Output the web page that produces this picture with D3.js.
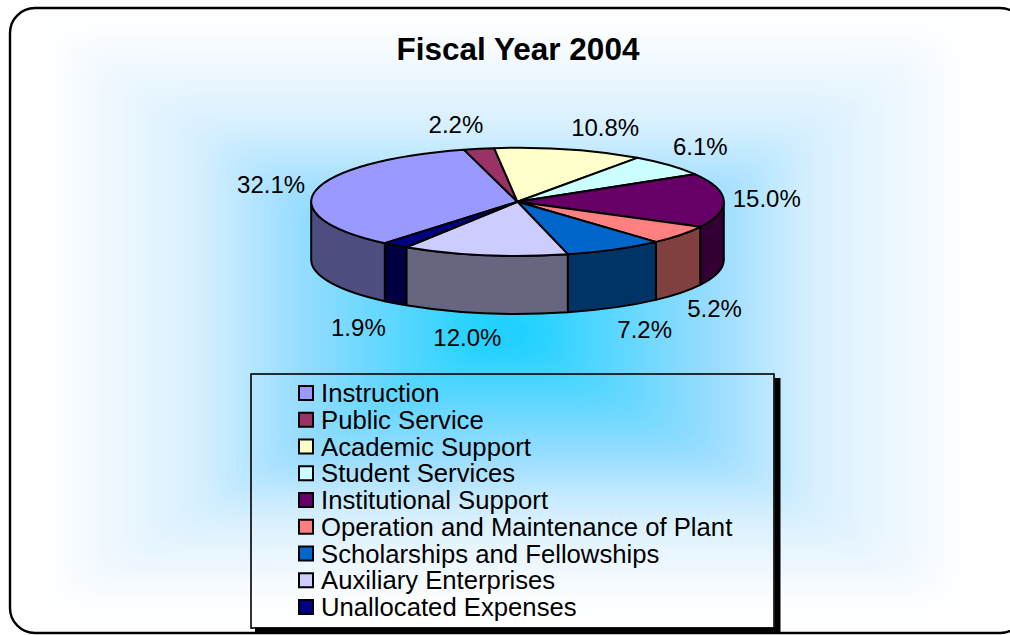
<!DOCTYPE html>
<meta charset="utf-8">
<style>
html, body { margin: 0; padding: 0; background: #fff; overflow: hidden; }
svg { display: block; font-family: "Liberation Sans", Arial, sans-serif; }
</style>
<body>
<script src="https://d3js.org/d3.v7.min.js"></script>
<script>
// data (labels show these, the slices get normalised by d3.pie)
var categories = ["Instruction", "Public Service", "Academic Support", "Student Services",
  "Institutional Support", "Operation and Maintenance of Plant", "Scholarships and Fellowships",
  "Auxiliary Enterprises", "Unallocated Expenses"];
var values = [32.1, 2.2, 10.8, 6.1, 15.0, 5.2, 7.2, 12.0, 1.9];
var topColors = ["#9999ff", "#993366", "#ffffcc", "#ccffff", "#660066", "#ff8080", "#0066cc", "#ccccff", "#000080"];
var sideColors = ["#4d4d80", "#4d1a33", "#808066", "#668080", "#330033", "#804040", "#003366", "#666680", "#000040"];
var chartTitle = "Fiscal Year 2004";

// layout
var width = 1010, height = 635;
var cx = 517.5, cy = 201.8, rx = 206.3, ry = 54, depth = 58;
var startDeg = -140;
// label offset from the rim point of each slice
var labelNudge = [[-45, -6], [-23, -24], [36, -22], [31, -19], [43, -2], [34, 16], [30, 22], [-17, 24], [-37, 24]];

var svg = d3.select("body").append("svg")
  .attr("width", width)
  .attr("height", height);

var defs = svg.append("defs");

defs.append("filter")
  .attr("id", "soft")
  .attr("filterUnits", "userSpaceOnUse")
  .attr("x", 0).attr("y", 0)
  .attr("width", width).attr("height", height)
  .append("feGaussianBlur")
  .attr("stdDeviation", 14);

// rectangular path gradient: four triangles meeting in the centre, blurred to round the contours
var gx = 505, gy = 335, gl = 45, gr = 965, gt = 25, gb = 605;
var stops = [[0, "#0ccfff"], [0.2, "#50d6ff"], [0.45, "#98dcff"], [0.67, "#d8f0ff"], [0.89, "#f2f9ff"], [1, "#ffffff"]];
var sides = [
  {id: "gTop", pts: [[gl, gt], [gr, gt], [gx, gy]], to: [gx, gt]},
  {id: "gBottom", pts: [[gl, gb], [gr, gb], [gx, gy]], to: [gx, gb]},
  {id: "gLeft", pts: [[gl, gt], [gl, gb], [gx, gy]], to: [gl, gy]},
  {id: "gRight", pts: [[gr, gt], [gr, gb], [gx, gy]], to: [gr, gy]}
];
var bg = svg.append("g").attr("filter", "url(#soft)");
bg.append("rect")
  .attr("width", width).attr("height", height)
  .attr("fill", "#fff");
sides.forEach(function(s) {
  var g = defs.append("linearGradient")
    .attr("id", s.id)
    .attr("gradientUnits", "userSpaceOnUse")
    .attr("x1", gx).attr("y1", gy)
    .attr("x2", s.to[0]).attr("y2", s.to[1]);
  stops.forEach(function(st) {
    g.append("stop").attr("offset", st[0]).attr("stop-color", st[1]);
  });
  bg.append("polygon")
    .attr("points", s.pts.join(" "))
    .attr("fill", "url(#" + s.id + ")");
});

// chart frame, the right side runs off the page
svg.append("rect")
  .attr("x", 10).attr("y", 8)
  .attr("width", 1015).attr("height", 625)
  .attr("rx", 25).attr("ry", 25)
  .attr("fill", "none")
  .attr("stroke", "#000")
  .attr("stroke-width", 2.4);

svg.append("text")
  .attr("x", 518).attr("y", 59.5)
  .attr("text-anchor", "middle")
  .attr("font-size", 31.5)
  .attr("font-weight", "bold")
  .text(chartTitle);

// pie
var pie = d3.pie()
  .sort(null)
  .startAngle(startDeg * Math.PI / 180)
  .endAngle((startDeg + 360) * Math.PI / 180);
var slices = pie(values);

function rimX(a) { return rx * Math.sin(a); }
function rimY(a) { return -ry * Math.cos(a); }

var g = svg.append("g").attr("transform", "translate(" + cx + "," + cy + ")");

// side walls, only the front half of the rim shows
function wallPath(a0, a1) {
  var p = "M" + rimX(a0) + "," + rimY(a0);
  p += "A" + rx + "," + ry + " 0 0 1 " + rimX(a1) + "," + rimY(a1);
  p += "L" + rimX(a1) + "," + (rimY(a1) + depth);
  p += "A" + rx + "," + ry + " 0 0 0 " + rimX(a0) + "," + (rimY(a0) + depth);
  return p + "Z";
}

g.selectAll("path.wall")
  .data(slices.filter(function(d) {
    return d.endAngle > Math.PI / 2 && d.startAngle < 3 * Math.PI / 2 || d.startAngle < -Math.PI / 2;
  }))
  .enter().append("path")
  .attr("class", "wall")
  .attr("d", function(d) {
    // angles before -90deg are the same as +270deg
    var a0 = d.startAngle, a1 = d.endAngle;
    if (a0 < -Math.PI / 2) return wallPath(a0, -Math.PI / 2);
    return wallPath(Math.max(a0, Math.PI / 2), Math.min(a1, 3 * Math.PI / 2));
  })
  .attr("fill", function(d) { return sideColors[d.index]; })
  .attr("stroke", "#000")
  .attr("stroke-width", 2)
  .attr("stroke-linejoin", "round");

// top face: circle arcs squashed into the ellipse
var arc = d3.arc().innerRadius(0).outerRadius(rx);
g.append("g")
  .attr("transform", "scale(1," + (ry / rx) + ")")
  .selectAll("path")
  .data(slices)
  .enter().append("path")
  .attr("d", arc)
  .attr("fill", function(d) { return topColors[d.index]; })
  .attr("stroke", "#000")
  .attr("stroke-width", 2)
  .attr("stroke-linejoin", "round")
  .attr("vector-effect", "non-scaling-stroke");

// percent labels
g.selectAll("text.pct")
  .data(slices)
  .enter().append("text")
  .attr("class", "pct")
  .attr("text-anchor", "middle")
  .attr("dominant-baseline", "central")
  .attr("font-size", 24)
  .attr("x", function(d) {
    var a = (d.startAngle + d.endAngle) / 2;
    return rimX(a) + labelNudge[d.index][0];
  })
  .attr("y", function(d) {
    var a = (d.startAngle + d.endAngle) / 2;
    return rimY(a) + (Math.cos(a) < 0 ? depth : 0) + labelNudge[d.index][1];
  })
  .text(function(d) { return d.value.toFixed(1) + "%"; });

// legend
var lx = 251, ly = 374, lw = 523, lh = 254;
svg.append("path")
  .attr("d", "M" + (lx + 4) + "," + (ly + lh + 2.5) + "H" + (lx + lw + 3.5) + "V" + (ly + 4))
  .attr("fill", "none")
  .attr("stroke", "#000")
  .attr("stroke-width", 6);
svg.append("rect")
  .attr("x", lx).attr("y", ly)
  .attr("width", lw).attr("height", lh)
  .attr("fill", "none")
  .attr("stroke", "#000")
  .attr("stroke-width", 1.6);

var rowY = d3.scalePoint().domain(categories).range([393, 607]);
var row = svg.selectAll("g.row")
  .data(categories)
  .enter().append("g")
  .attr("class", "row")
  .attr("transform", function(d) { return "translate(0," + rowY(d) + ")"; });
row.append("rect")
  .attr("x", 299).attr("y", -7)
  .attr("width", 14).attr("height", 14)
  .attr("fill", function(d, i) { return topColors[i]; })
  .attr("stroke", "#000")
  .attr("stroke-width", 2);
row.append("text")
  .attr("x", 321)
  .attr("dominant-baseline", "central")
  .attr("font-size", 25.7)
  .text(function(d) { return d; });
</script>
</body>
